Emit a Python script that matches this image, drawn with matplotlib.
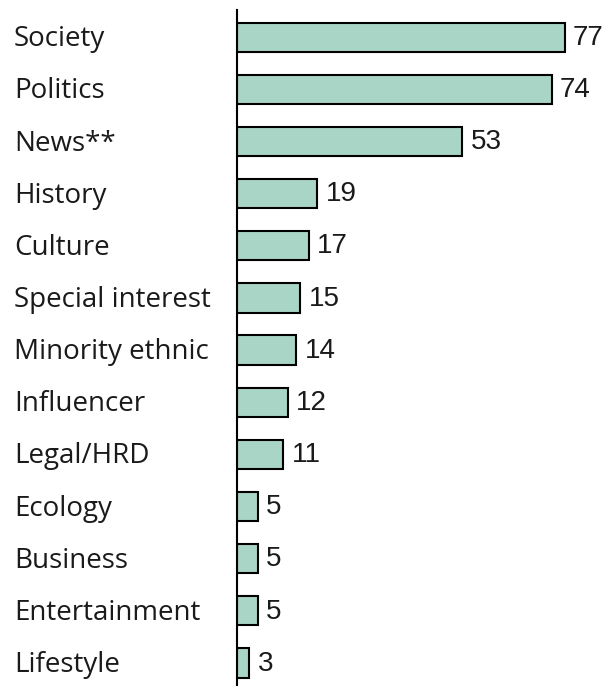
import matplotlib
matplotlib.use("Agg")
import matplotlib.pyplot as plt
import matplotlib.transforms as mtransforms

categories = ["Society", "Politics", "News**", "History", "Culture",
              "Special interest", "Minority ethnic", "Influencer",
              "Legal/HRD", "Ecology", "Business", "Entertainment", "Lifestyle"]
counts = [77, 74, 53, 19, 17, 15, 14, 12, 11, 5, 5, 5, 3]

bar_color = "#a8d5c5"

fig = plt.figure(figsize=(6.05, 6.86), dpi=100)
ax = fig.add_axes([236.5 / 605, 0, 1 - 236.5 / 605, 676 / 686])

ypos = list(range(len(categories)))
ax.barh(ypos, counts, height=0.56, color=bar_color, edgecolor="black",
        linewidth=1.5, zorder=2)

ax.set_xlim(0, 86.5)
ax.set_ylim(12.44, -0.52)

for spine in ["top", "right", "bottom"]:
    ax.spines[spine].set_visible(False)
ax.spines["left"].set_linewidth(1.5)
ax.set_xticks([])
ax.set_yticks([])

# category names, left-aligned against the figure edge
for y, name in zip(ypos, categories):
    ax.annotate(name, xy=(14 / 605, y),
                xycoords=("figure fraction", "data"),
                xytext=(0, -1.5), textcoords="offset points",
                ha="left", va="center", fontsize=20,
                family="Open Sans", color="#1a1a1a")

for y, v in zip(ypos, counts):
    ax.annotate(str(v), xy=(v, y), xytext=(6, -0.5), textcoords="offset points",
                ha="left", va="center", fontsize=20,
                family="Liberation Sans", color="#1a1a1a")

fig.savefig("out.png", dpi=100)
